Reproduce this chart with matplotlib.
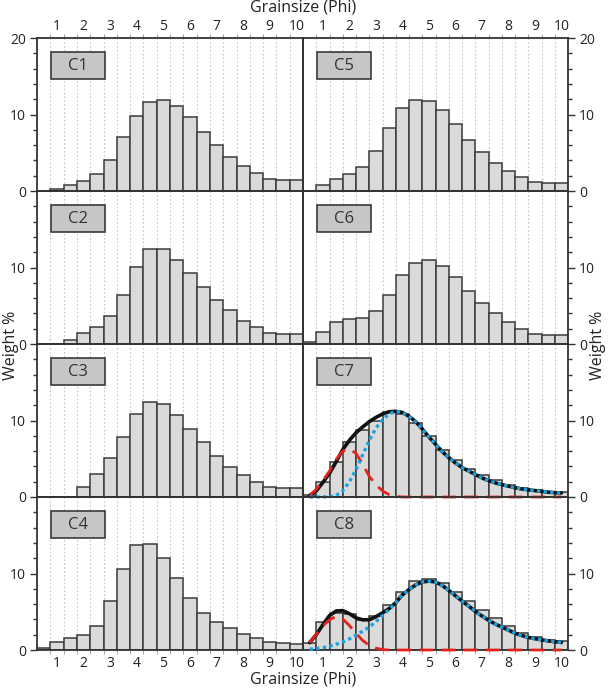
import matplotlib
matplotlib.use("Agg")
import matplotlib.pyplot as plt
from matplotlib.patches import Rectangle

plt.rcParams['font.family'] = ['Open Sans', 'DejaVu Sans']

# ---------------- data ----------------
phi = [0.5, 1.0, 1.5, 2.0, 2.5, 3.0, 3.5, 4.0, 4.5, 5.0,
       5.5, 6.0, 6.5, 7.0, 7.5, 8.0, 8.5, 9.0, 9.5, 10.0]

c1 = [0, 0.3, 0.74, 1.26, 2.17, 4.04, 7.04, 9.83, 11.65, 11.9,
      11.17, 9.65, 7.74, 6.0, 4.48, 3.26, 2.35, 1.6, 1.39, 1.39]
c2 = [0, 0, 0.56, 1.5, 2.16, 3.66, 6.4, 10.04, 12.46, 12.37,
      11.03, 9.3, 7.46, 5.73, 4.4, 3.06, 2.16, 1.5, 1.34, 1.25]
c3 = [0, 0, 0, 1.26, 3.04, 5.09, 7.87, 10.9, 12.4, 12.1,
      10.7, 8.9, 7.13, 5.35, 3.96, 2.83, 1.91, 1.35, 1.13, 1.13]
c4 = [0.22, 1.09, 1.52, 1.91, 3.2, 6.4, 10.57, 13.7, 13.83, 12.04,
      9.43, 6.74, 4.83, 3.6, 2.83, 2.09, 1.52, 1.09, 0.87, 0.78]
c5 = [0, 0.74, 1.6, 2.2, 3.1, 5.17, 8.2, 10.8, 11.87, 11.8,
      10.65, 8.7, 6.7, 5.04, 3.7, 2.6, 1.83, 1.22, 1.04, 1.09]
c6 = [0.2, 1.6, 2.9, 3.33, 3.42, 4.3, 6.37, 9.0, 10.6, 11.0,
      10.2, 8.7, 6.97, 5.4, 4.1, 2.9, 2.0, 1.37, 1.15, 1.15]
c7 = [0.3, 2.0, 4.6, 7.2, 8.8, 10.0, 11.05, 10.9, 9.66, 7.97,
      6.2, 4.83, 3.7, 2.9, 2.24, 1.6, 1.16, 0.86, 0.65, 0.6]
c8 = [0.9, 3.6, 4.9, 4.75, 3.9, 4.4, 5.85, 7.6, 9.0, 9.3,
      8.76, 7.6, 6.4, 5.24, 4.16, 3.18, 2.23, 1.72, 1.33, 1.16]

# fitted curves, sampled every 0.25 phi from 0.5 to 10.0
phi_fine = [0.5, 0.75, 1.0, 1.25, 1.5, 1.75, 2.0, 2.25, 2.5, 2.75,
            3.0, 3.25, 3.5, 3.75, 4.0, 4.25, 4.5, 4.75, 5.0, 5.25,
            5.5, 5.75, 6.0, 6.25, 6.5, 6.75, 7.0, 7.25, 7.5, 7.75,
            8.0, 8.25, 8.5, 8.75, 9.0, 9.25, 9.5, 9.75, 10.0]

c7_red = [0.2, 1.0, 2.1, 3.4, 4.9, 6.0, 6.3, 5.7, 4.3, 2.7,
          1.6, 0.8, 0.3, 0.08, 0, 0, 0, 0, 0, 0,
          0, 0, 0, 0, 0, 0, 0, 0, 0, 0,
          0, 0, 0, 0, 0, 0, 0, 0, 0]
c7_blue = [0, 0, 0.01, 0.05, 0.2, 0.8, 2.0, 3.6, 5.5, 7.4,
           9.0, 10.1, 10.85, 11.2, 11.05, 10.55, 9.85, 8.9, 7.85, 6.9,
           5.95, 5.15, 4.45, 3.85, 3.4, 2.95, 2.5, 2.15, 1.85, 1.62,
           1.42, 1.22, 1.05, 0.94, 0.84, 0.74, 0.63, 0.57, 0.52]
c7_sum = [0.2, 0.8, 1.9, 3.1, 4.6, 6.2, 7.4, 8.4, 9.15, 9.85,
          10.4, 10.85, 11.15, 11.2, 11.05, 10.55, 9.85, 8.9, 7.85, 6.9,
          5.95, 5.15, 4.45, 3.85, 3.4, 2.95, 2.5, 2.15, 1.85, 1.62,
          1.42, 1.22, 1.05, 0.94, 0.84, 0.74, 0.63, 0.57, 0.52]

c8_red = [0.96, 2.05, 3.15, 3.95, 4.4, 4.05, 3.2, 2.2, 1.25, 0.6,
          0.25, 0.05, 0, 0, 0, 0, 0, 0, 0, 0,
          0, 0, 0, 0, 0, 0, 0, 0, 0, 0,
          0, 0, 0, 0, 0, 0, 0, 0, 0]
c8_blue = [0.1, 0.18, 0.3, 0.5, 0.75, 1.05, 1.45, 1.95, 2.45, 3.0,
           3.7, 4.5, 5.3, 6.2, 7.2, 7.9, 8.5, 8.9, 9.0, 8.9,
           8.45, 7.8, 7.1, 6.4, 5.75, 5.05, 4.45, 3.9, 3.4, 3.0,
           2.6, 2.2, 1.9, 1.65, 1.48, 1.33, 1.2, 1.08, 0.98]
c8_sum = [0.96, 2.0, 3.3, 4.5, 5.1, 5.15, 4.75, 4.2, 3.95, 3.95,
          4.35, 4.85, 5.4, 6.2, 7.2, 7.9, 8.5, 8.9, 9.0, 8.9,
          8.45, 7.8, 7.1, 6.4, 5.75, 5.05, 4.45, 3.9, 3.4, 3.0,
          2.6, 2.2, 1.9, 1.65, 1.48, 1.33, 1.2, 1.08, 0.98]

x_ticks = [1, 2, 3, 4, 5, 6, 7, 8, 9, 10]
grid_edges = [0.75 + 0.5 * i for i in range(19)]

panels = [
    ("C1", c1, 0, 0), ("C2", c2, 1, 0), ("C3", c3, 2, 0), ("C4", c4, 3, 0),
    ("C5", c5, 0, 1), ("C6", c6, 1, 1), ("C7", c7, 2, 1), ("C8", c8, 3, 1),
]
curves = {
    "C7": (c7_sum, c7_red, c7_blue),
    "C8": (c8_sum, c8_red, c8_blue),
}

# ---------------- figure ----------------
W, H = 609, 689
fig = plt.figure(figsize=(W / 100, H / 100), dpi=100)
fig.patch.set_facecolor('white')

col_x = [37, 303]
col_w = [266, 265]
top0 = 38
row_h = 153

spine_c = '#333333'
text_c = '#222222'

for name, vals, r, c in panels:
    left = col_x[c] / W
    bottom = 1 - (top0 + row_h * (r + 1)) / H
    ax = fig.add_axes([left, bottom, col_w[c] / W, row_h / H])
    ax.set_xlim(0.25, 10.25)
    ax.set_ylim(0, 20)
    ax.patch.set_visible(False)
    for e in grid_edges:
        ax.axvline(e, color='#c4c4c4', lw=0.8, ls=(0, (1.5, 2)), zorder=0)
    ax.bar(phi, vals, width=0.5, color='#dadada', edgecolor='#3a3a3a',
           linewidth=1.1, zorder=2)
    if name in curves:
        s, rd, bl = curves[name]
        ax.plot(phi_fine, s, color='#111111', lw=2.6, zorder=3,
                solid_capstyle='round')
        ax.plot(phi_fine, rd, color='#e3231b', lw=2.0, ls=(0, (5, 3)),
                zorder=4, clip_on=False)
        ax.plot(phi_fine, bl, color='#1aa3e0', lw=2.4, ls=(0, (1, 1)),
                zorder=5, clip_on=False)
    # label box
    ax.add_patch(Rectangle((0.052, 0.73), 0.204, 0.178, transform=ax.transAxes,
                           facecolor='#c6c6c6', edgecolor='#3a3a3a', lw=1.2,
                           zorder=6))
    ax.text(0.154, 0.819, name, transform=ax.transAxes, ha='center',
            va='center', fontsize=12, color='#333333', zorder=7)

    for sp in ax.spines.values():
        sp.set_color(spine_c)
        sp.set_linewidth(1.3)

    # y ticks
    if r == 0:
        ax.set_yticks([0, 10, 20])
    else:
        ax.set_yticks([0, 10])
    ax.set_yticks([2, 4, 6, 8, 12, 14, 16, 18], minor=True)
    ax.tick_params(axis='y', which='both', left=(c == 0), right=(c == 1),
                   labelleft=(c == 0), labelright=(c == 1), direction='out',
                   colors=spine_c, labelcolor=text_c, labelsize=10,
                   width=1.0)
    ax.tick_params(axis='y', which='major', length=5, pad=3)
    ax.tick_params(axis='y', which='minor', length=3)

    # x ticks
    ax.set_xticks(x_ticks)
    ax.set_xticks(grid_edges, minor=True)
    ax.tick_params(axis='x', which='major', length=0, labelsize=10,
                   labelcolor=text_c, top=False, bottom=False,
                   labeltop=(r == 0), labelbottom=(r == 3),
                   pad=3 if r == 0 else 4)
    ax.tick_params(axis='x', which='minor', length=3, color='#aaaaaa',
                   width=0.8, top=(r == 0), bottom=(r == 3), direction='out')

fig.text(303 / W, 1 - 8 / H, "Grainsize (Phi)", ha='center', va='center',
         fontsize=11.5, color=text_c)
fig.text(303 / W, 1 - 679 / H, "Grainsize (Phi)", ha='center', va='center',
         fontsize=11.5, color=text_c)
fig.text(11 / W, 1 - 345 / H, "Weight %", ha='center', va='center',
         rotation=90, fontsize=11.5, color=text_c)
fig.text(598 / W, 1 - 345 / H, "Weight %", ha='center', va='center',
         rotation=90, fontsize=11.5, color=text_c)

fig.savefig("out.png", dpi=100, facecolor='white')
